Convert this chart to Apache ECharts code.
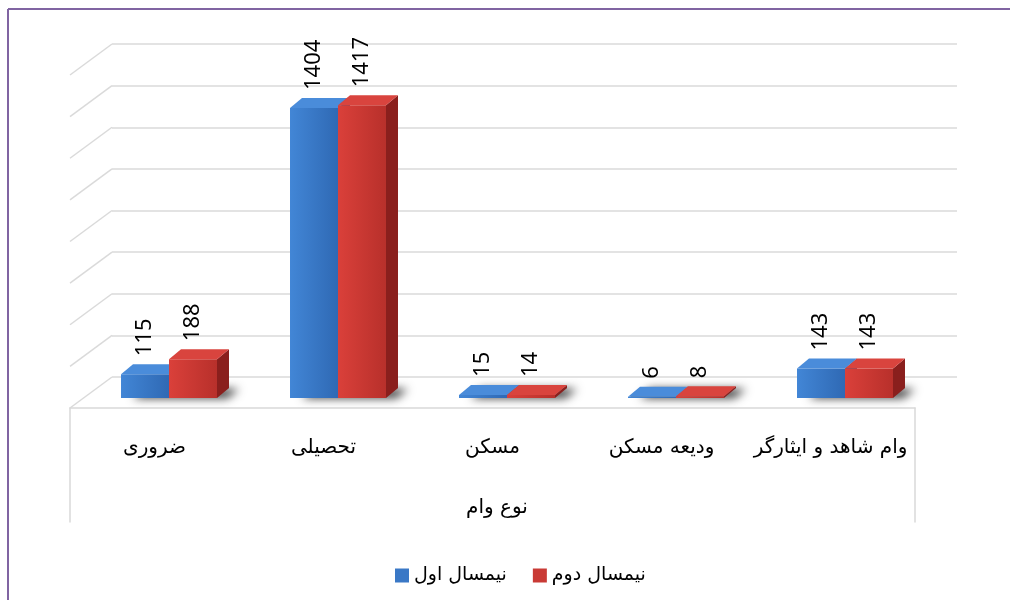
<!DOCTYPE html>
<html>
<head>
<meta charset="utf-8">
<script src="https://cdn.jsdelivr.net/npm/echarts@6/dist/echarts.min.js"></script>
<style>
html, body { margin: 0; padding: 0; background: #fff; }
#main { width: 1010px; height: 600px; }
</style>
</head>
<body>
<div id="main"></div>
<script>
// data
var categories = ['ضروری', 'تحصیلی', 'مسکن', 'ودیعه مسکن', 'وام شاهد و ایثارگر'];
var seriesNames = ['نیمسال اول', 'نیمسال دوم'];
var term1 = [115, 1404, 15, 6, 143];
var term2 = [188, 1417, 14, 8, 143];
var yTicks = [0, 200, 400, 600, 800, 1000, 1200, 1400, 1600];
var axisTitle = 'نوع وام';

var DX = 12, DY = -10;       // bar depth
var faFont = '"DejaVu Sans", sans-serif';

var blue = { front: ['#4286d6', '#2f69b4'], top: '#4a8cda', side: '#24548f' };
var red = { front: ['#da403a', '#b8302b'], top: '#d9443e', side: '#8a1f1d' };

function lin(c) {
    return new echarts.graphic.LinearGradient(0, 0, 1, 0, [
        { offset: 0, color: c[0] }, { offset: 1, color: c[1] }
    ]);
}

function bar3d(side, col) {
    return function (params, api) {
        var idx = api.value(0), val = api.value(1);
        var top = api.coord([idx, val]);
        var base = api.coord([idx, 0]);
        var w = api.size([1, 0])[0] * 0.284;
        var x0 = side === 0 ? top[0] - w : top[0];
        var yt = top[1], yb = base[1];
        return {
            type: 'group',
            children: [
                { type: 'rect', shape: { x: x0, y: yt, width: w, height: yb - yt },
                  style: { fill: lin(col.front) } },
                { type: 'polygon', shape: { points: [[x0 + w, yt], [x0 + w + DX, yt + DY], [x0 + w + DX, yb + DY], [x0 + w, yb]] },
                  style: { fill: col.side } },
                { type: 'polygon', shape: { points: [[x0, yt], [x0 + w, yt], [x0 + w + DX, yt + DY], [x0 + DX, yt + DY]] },
                  style: { fill: col.top } },
                { type: 'text', x: x0 + w / 2, y: yt - 18, rotation: Math.PI / 2,
                  style: { text: String(val), fill: '#000', font: '22px "Noto Sans"', align: 'left', verticalAlign: 'middle' } }
            ]
        };
    };
}

var chart = echarts.init(document.getElementById('main'));

var option = {
    backgroundColor: '#fff',
    animation: false,
    title: {
        text: axisTitle,
        left: 492, top: 493, textAlign: 'center',
        textStyle: { fontFamily: faFont, fontSize: 20, fontWeight: 'normal', color: '#000' }
    },
    legend: {
        data: seriesNames,
        left: 390,
        top: 561,
        icon: 'rect',
        itemWidth: 14,
        itemHeight: 14,
        itemGap: 26,
        textStyle: { fontFamily: faFont, fontSize: 19, color: '#000' }
    },
    graphic: [
        { type: 'line', shape: { x1: 8, y1: 9, x2: 1010, y2: 9 }, style: { stroke: '#8064a2', lineWidth: 2 } },
        { type: 'line', shape: { x1: 8, y1: 9, x2: 8, y2: 600 }, style: { stroke: '#8064a2', lineWidth: 2 } }
    ],
    grid: [
        { left: 112, width: 845, top: 44, height: 333 },      // back wall
        { left: 84.5, width: 845, top: 67.5, height: 330.5 }, // bar front plane
        { left: 70, width: 845, top: 408, height: 114 }       // category box
    ],
    xAxis: [
        { gridIndex: 0, type: 'category', data: categories, show: false },
        { gridIndex: 1, type: 'category', data: categories, show: false },
        {
            gridIndex: 2, type: 'category', data: categories, position: 'top',
            axisLine: { onZero: false, lineStyle: { color: '#d9d9d9', width: 1.5 } },
            axisTick: { show: false },
            axisLabel: { inside: true, interval: 0, margin: 40, verticalAlign: 'middle', color: '#000', fontFamily: faFont, fontSize: 20 }
        }
    ],
    yAxis: [
        {
            gridIndex: 0, type: 'value', min: 0, max: 1600, interval: 200,
            axisLine: { show: false }, axisTick: { show: false }, axisLabel: { show: false },
            splitLine: { lineStyle: { color: '#dadada', width: 1.5 } }
        },
        { gridIndex: 1, type: 'value', min: 0, max: 1600, show: false, splitLine: { show: false } },
        {
            gridIndex: 2, type: 'value', position: 'left', min: 0, max: 1,
            axisLine: { show: true, lineStyle: { color: '#d9d9d9', width: 1.5 } },
            axisTick: { show: false }, axisLabel: { show: false }, splitLine: { show: false }
        },
        {
            gridIndex: 2, type: 'value', position: 'right', min: 0, max: 1,
            axisLine: { show: true, lineStyle: { color: '#d9d9d9', width: 1.5 } },
            axisTick: { show: false }, axisLabel: { show: false }, splitLine: { show: false }
        }
    ],
    series: [
        {
            // side wall diagonals
            type: 'custom', xAxisIndex: 0, yAxisIndex: 0, silent: true,
            data: yTicks.map(function (v) { return [0, v]; }),
            renderItem: function (params, api) {
                var p = api.coord([0, api.value(1)]);
                var x = params.coordSys.x;
                return { type: 'line', shape: { x1: x, y1: p[1], x2: x - 42, y2: p[1] + 31 },
                         style: { stroke: '#dadada', lineWidth: 1.5 } };
            }
        },
        {
            // soft floor shadows: footprint hidden behind the bars, only the blur shows
            type: 'custom', xAxisIndex: 1, yAxisIndex: 1, silent: true, z: 1,
            data: categories.map(function (c, i) { return [i, 0]; }),
            renderItem: function (params, api) {
                var b = api.coord([api.value(0), 0]);
                var w = api.size([1, 0])[0] * 0.284;
                var xl = b[0] - w, xr = b[0] + w;
                return { type: 'polygon',
                         shape: { points: [[xl + 2, b[1] - 1], [xr, b[1] - 1], [xr + DX, b[1] + DY], [xl + DX, b[1] + DY]] },
                         style: { fill: '#808080', shadowBlur: 10, shadowColor: 'rgba(0,0,0,0.8)', shadowOffsetX: 10, shadowOffsetY: 1 } };
            }
        },
        {
            name: seriesNames[0], type: 'custom', xAxisIndex: 1, yAxisIndex: 1, z: 3,
            itemStyle: { color: '#3a78c6' },
            data: term1.map(function (v, i) { return [i, v]; }),
            renderItem: bar3d(0, blue)
        },
        {
            name: seriesNames[1], type: 'custom', xAxisIndex: 1, yAxisIndex: 1, z: 4,
            itemStyle: { color: '#c93a35' },
            data: term2.map(function (v, i) { return [i, v]; }),
            renderItem: bar3d(1, red)
        }
    ]
};

chart.setOption(option);
</script>
</body>
</html>
